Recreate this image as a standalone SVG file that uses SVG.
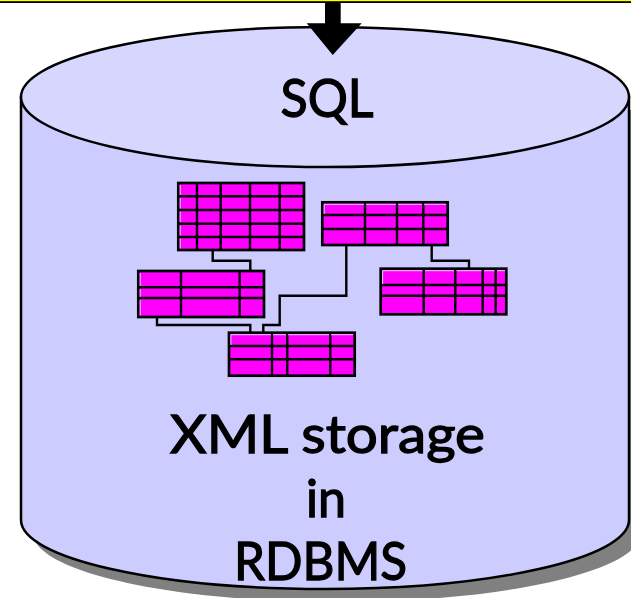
<svg xmlns="http://www.w3.org/2000/svg" width="631" height="598" viewBox="0 0 631 598">
<style>
.t{fill:#f0f;stroke:#000;stroke-width:2.7}
.g{fill:none;stroke:#000;stroke-width:2.4}
.hl{fill:none;stroke:#d8d0f8;stroke-width:1}
.c{fill:none;stroke:#000;stroke-width:2.4}
text{font-family:"Lato","Noto Sans","Liberation Sans",sans-serif;font-size:52px;fill:#000;stroke:#000;stroke-width:1.3;text-anchor:middle}
</style>
<rect width="631" height="598" fill="#fff"/>
<g id="topline"><rect y="0" width="631" height="3" fill="#000"/><rect y="0" width="631" height="1.2" fill="#ff0"/></g>
<g id="cylinder">
<path d="M33 110V533C33 571 169 602 337 602C505 602 641 571 641 533V110Z" fill="#808080"/>
<path d="M21 97V520C21 558 157 589 325 589C493 589 629 558 629 520V97Z" fill="#ccf" stroke="#000" stroke-width="2.5"/>
<ellipse cx="325" cy="97" rx="304" ry="70" fill="#d6d6ff" stroke="#000" stroke-width="2.5"/>
</g>
<g id="arrow"><path d="M325 3H340.700V23.300H361.700L332.700 55L306.700 23.300H325Z" fill="#000"/></g>
<text x="327" y="117" textLength="93" lengthAdjust="spacingAndGlyphs">SQL</text>
<g id="connectors">
<path class="c" d="M212.700 250V260.700H250.300V271"/>
<path class="c" d="M157 317V325H250.300V332.700"/>
<path class="c" d="M346.300 245V295.700H279.700V325H263.300V332.700"/>
<path class="c" d="M431.700 245V260.700H469V268.700"/>
</g>
<g id="table1"><rect class="t" x="178.300" y="183" width="125.700" height="67"/><path class="g" d="M197 183V250M220.700 183V250M250 183V250M279.700 183V250M178 196.300H304M178 210H304M178 223.700H304M178 237H304"/><path class="hl" d="M180.200 195V185M180.200 198V208.500M180.200 211.500V222M180.200 225.500V235.500M180.200 238.500V248.500"/></g>
<g id="table2"><rect class="t" x="138.300" y="271" width="125.700" height="46"/><path class="g" d="M181 271V317M239.700 271V317M138 287.300H264M138 298H264"/><path class="hl" d="M140.200 286V273M140.200 289V297M140.200 300V315.500"/></g>
<g id="table3"><rect class="t" x="229" y="332.700" width="125.700" height="43"/><path class="g" d="M272 333V376M287.300 333V376M330.300 333V376M229 346H355M229 359.300H355"/><path class="hl" d="M230.900 345V334.700H271M273 334.700H286M288 334.700H329M331 334.700H353"/></g>
<g id="table4"><rect class="t" x="322.300" y="202.300" width="125.400" height="42.700"/><path class="g" d="M365 202V245M397 202V245M423.300 202V245M322 215H448M322 229H448"/><path class="hl" d="M324.200 214V204.300H364M366 204.300H396M398 204.300H422M424 204.300H446"/></g>
<g id="table5"><rect class="t" x="380.700" y="268.700" width="125.600" height="45.600"/><path class="g" d="M423.700 269V314M455.300 269V314M482.700 269V314M495.700 269V314M381 285H507M381 295.700H507"/><path class="hl" d="M382.600 284V270.700H422.500M425 270.700H454M456.500 270.700H481.500M484 270.700H494.500M497 270.700H505"/></g>
<text x="327.500" y="453" textLength="315" lengthAdjust="spacingAndGlyphs">XML storage</text>
<text x="326" y="517" textLength="40" lengthAdjust="spacingAndGlyphs">in</text>
<text x="320.500" y="580" textLength="173" lengthAdjust="spacingAndGlyphs">RDBMS</text>
</svg>
